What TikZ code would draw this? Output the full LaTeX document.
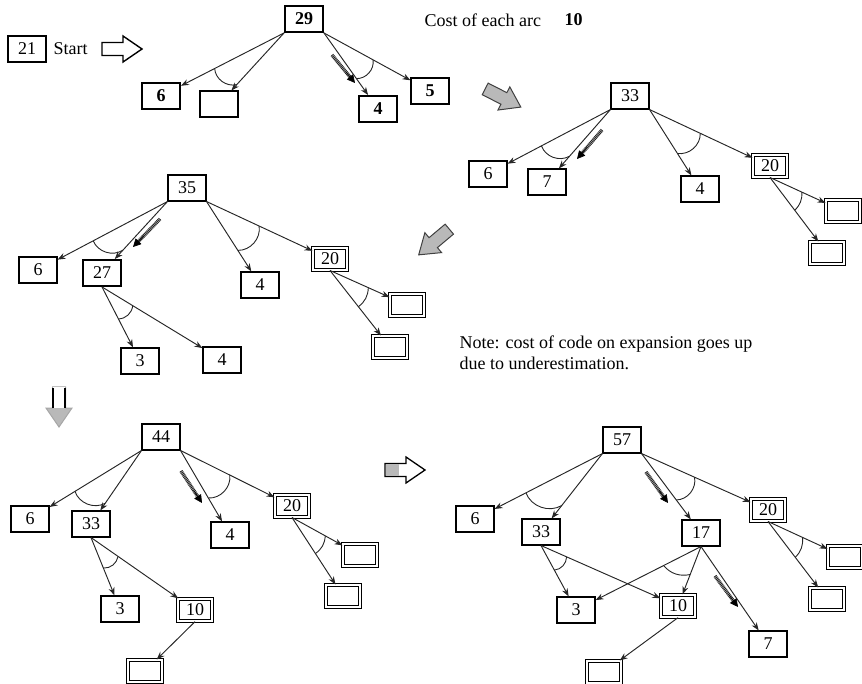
\documentclass[tikz,border=0pt]{standalone}
\usepackage{fontspec}
\setmainfont{Liberation Serif}
\usetikzlibrary{arrows.meta,calc}
\begin{document}
\begin{tikzpicture}[x=1pt,y=-1pt,
  every node/.style={font=\fontsize{18}{21}\selectfont},
  bf/.style={font=\fontsize{18}{21}\selectfont\bfseries},
  box/.style={draw, line width=1.1pt, minimum width=38pt, minimum height=26pt, inner sep=0pt},
  tbox/.style={box, line width=1.9pt},
  dbox/.style={draw, double, double distance=2pt, line width=1pt, minimum width=34pt, minimum height=22pt, inner sep=0pt},
  edge/.style={line width=0.95pt, black!85, -{Stealth[length=8pt,width=6pt]}},
  andarc/.style={line width=0.9pt, black!85},
  hatchbg/.style={line width=3.4pt, black!30, shorten >=6pt},
  hatchfg/.style={line width=3.4pt, black!90, dash pattern=on 0.7pt off 0.9pt, shorten >=6pt},
  hatchtip/.style={-{Triangle[length=8pt,width=8pt]}, line width=0.6pt},
  blockarrow/.pic={\path[pic actions] (-20,-6.5) -- (1,-6.5) -- (1,-13) -- (20,0) -- (1,13) -- (1,6.5) -- (-20,6.5) -- cycle;}
]
\useasboundingbox (0,0) rectangle (862,684);

% ---------- panel 1 ----------
\node[box, line width=1.3pt] (s21) at (27,49) {21};
\node[anchor=west] (start) at (50,49) {Start};
\pic[draw, fill=white, line width=1.4pt] (ar1) at (122,49) {blockarrow};
\node[anchor=west] (cost) at (421,20) {Cost of each arc};
\node[anchor=west, bf] (cost10) at (561,20) {10};

\node[tbox, bf] (a29) at (304,19) {29};
\node[tbox, bf] (a6) at (161,96) {6};
\node[box] (ae) at (219,104) {};
\node[tbox, bf] (a4) at (378,109) {4};
\node[box, bf] (a5) at (430,91) {5};
\draw[edge] (a29.south west) -- (a6);
\draw[edge] (a29.south west) -- (ae);
\draw[edge] (a29.south east) -- (a4);
\draw[edge] (a29.south east) -- (a5);
\draw[andarc] ($(a29.south west)!78pt!(a6)$) to[bend right=50] ($(a29.south west)!70pt!(ae)$);
\draw[andarc] ($(a29.south east)!56pt!(a4)$) to[bend right=50] ($(a29.south east)!56pt!(a5)$);
\coordinate (h1a) at (332,55); \coordinate (h1b) at (355,83);
\draw[hatchbg] (h1a) -- (h1b); \draw[hatchfg] (h1a) -- (h1b);
\draw[hatchtip] ($(h1a)!0.6!(h1b)$) -- (h1b);

\pic[draw=black!75, fill=gray!55, line width=1pt, rotate=-27] (ar2) at (503,98) {blockarrow};

% ---------- panel 2 ----------
\node[box] (b33) at (630,96) {33};
\node[box] (b6) at (488,174) {6};
\node[box] (b7) at (547,182) {7};
\node[box] (b4) at (700,189) {4};
\node[dbox] (b20) at (770,166) {20};
\node[dbox] (bx1) at (843,211) {};
\node[dbox] (bx2) at (827,253) {};
\draw[edge] (b33.south west) -- (b6);
\draw[edge] (b33.south west) -- (b7);
\draw[edge] (b33.south east) -- (b4);
\draw[edge] (b33.south east) -- (b20);
\draw[edge] (b20.south) -- (bx1);
\draw[edge] (b20.south) -- (bx2);
\draw[andarc] ($(b33.south west)!78pt!(b6)$) to[bend right=50] ($(b33.south west)!62pt!(b7)$);
\draw[andarc] ($(b33.south east)!52pt!(b4)$) to[bend right=50] ($(b33.south east)!56pt!(b20)$);
\draw[andarc] ($(b20.south)!41pt!(bx2)$) to[bend right=25] ($(b20.south)!35pt!(bx1)$);
\coordinate (h2a) at (602,130); \coordinate (h2b) at (577,159);
\draw[hatchbg] (h2a) -- (h2b); \draw[hatchfg] (h2a) -- (h2b);
\draw[hatchtip] ($(h2a)!0.6!(h2b)$) -- (h2b);

\pic[draw=black!75, fill=gray!55, line width=1pt, rotate=220] (ar3) at (434,242) {blockarrow};

% ---------- panel 3 ----------
\node[box] (c35) at (187,188) {35};
\node[box] (c6) at (38,270) {6};
\node[tbox] (c27) at (102,273) {27};
\node[box] (c4) at (260,285) {4};
\node[dbox] (c20) at (330,259) {20};
\node[dbox] (cx1) at (407,305) {};
\node[dbox] (cx2) at (390,347) {};
\node[box] (c3) at (140,361) {3};
\node[box] (c4b) at (222,360) {4};
\draw[edge] (c35.south west) -- (c6);
\draw[edge] (c35.south west) -- (c27);
\draw[edge] (c35.south east) -- (c4);
\draw[edge] (c35.south east) -- (c20);
\draw[edge] (c20.south) -- (cx1);
\draw[edge] (c20.south) -- (cx2);
\draw[edge] (c27.south) -- (c3);
\draw[edge] (c27.south) -- (c4b);
\draw[andarc] ($(c35.south west)!84pt!(c6)$) to[bend right=50] ($(c35.south west)!66pt!(c27)$);
\draw[andarc] ($(c35.south east)!58pt!(c4)$) to[bend right=50] ($(c35.south east)!58pt!(c20)$);
\draw[andarc] ($(c27.south)!36pt!(c3)$) to[bend right=40] ($(c27.south)!36pt!(c4b)$);
\draw[andarc] ($(c20.south)!46pt!(cx2)$) to[bend right=25] ($(c20.south)!42pt!(cx1)$);
\coordinate (h3a) at (160,219); \coordinate (h3b) at (133,247);
\draw[hatchbg] (h3a) -- (h3b); \draw[hatchfg] (h3a) -- (h3b);
\draw[hatchtip] ($(h3a)!0.6!(h3b)$) -- (h3b);

\node[anchor=west, align=left] (note) at (456,353) {Note: cost of code on expansion goes up\\due to underestimation.};

% down arrow
\pic[draw=gray!70, fill=gray!55, line width=1pt, rotate=-90] (ar4) at (59,407) {blockarrow};
\fill[white] (53,387.5) rectangle (65,407.5);
\draw[line width=1.6pt] (53,388) -- (53,407.5);
\draw[line width=1.6pt] (65,388) -- (65,407.5);

% ---------- panel 4 ----------
\node[box] (d44) at (161,437) {44};
\node[box] (d6) at (30,519) {6};
\node[box] (d33) at (91,524) {33};
\node[box] (d4) at (230,535) {4};
\node[dbox] (d20) at (292,506) {20};
\node[dbox] (dx1) at (360,555) {};
\node[dbox] (dx2) at (343,596) {};
\node[box] (d3) at (120,609) {3};
\node[dbox, line width=1.3pt] (d10) at (195,610) {10};
\node[dbox] (dx3) at (145,671) {};
\draw[edge] (d44.south west) -- (d6);
\draw[edge] (d44.south west) -- (d33);
\draw[edge] (d44.south east) -- (d4);
\draw[edge] (d44.south east) -- (d20);
\draw[edge] (d20.south) -- (dx1);
\draw[edge] (d20.south) -- (dx2);
\draw[edge] (d33.south) -- (d3);
\draw[edge] (d33.south) -- (d10);
\draw[edge] (d10.south) -- (dx3);
\draw[andarc] ($(d44.south west)!78pt!(d6)$) to[bend right=50] ($(d44.south west)!64pt!(d33)$);
\draw[andarc] ($(d44.south east)!55pt!(d4)$) to[bend right=50] ($(d44.south east)!55pt!(d20)$);
\draw[andarc] ($(d33.south)!33pt!(d3)$) to[bend right=40] ($(d33.south)!33pt!(d10)$);
\draw[andarc] ($(d20.south)!43pt!(dx2)$) to[bend right=25] ($(d20.south)!38pt!(dx1)$);
\coordinate (h4a) at (181,471); \coordinate (h4b) at (202,503);
\draw[hatchbg] (h4a) -- (h4b); \draw[hatchfg] (h4a) -- (h4b);
\draw[hatchtip] ($(h4a)!0.6!(h4b)$) -- (h4b);

% right arrow
\pic[draw, fill=white, line width=1.3pt] (ar5) at (405,470) {blockarrow};
\fill[gray!55] (385.7,464.2) rectangle (399,475.8);

% ---------- panel 5 ----------
\node[box] (e57) at (622,440) {57};
\node[box] (e6) at (475,519) {6};
\node[box] (e33) at (541,532) {33};
\node[box] (e17) at (701,533) {17};
\node[dbox] (e20) at (768,510) {20};
\node[dbox] (ex1) at (845,557) {};
\node[dbox] (ex2) at (827,599) {};
\node[box] (e3) at (576,610) {3};
\node[dbox, line width=1.3pt] (e10) at (678,606) {10};
\node[box] (e7) at (768,644) {7};
\node[dbox] (ex3) at (604,672) {};
\draw[edge] (e57.south west) -- (e6);
\draw[edge] (e57.south west) -- (e33);
\draw[edge] (e57.south east) -- (e17);
\draw[edge] (e57.south east) -- (e20);
\draw[edge] (e20.south) -- (ex1);
\draw[edge] (e20.south) -- (ex2);
\draw[edge] (e33.south) -- (e3);
\draw[edge] (e33.south) -- (e10);
\draw[edge] (e17.south) -- (e3);
\draw[edge] (e17.south) -- (e10);
\draw[edge] (e17.south) -- (e7);
\draw[edge] (e10.south) -- (ex3);
\draw[andarc] ($(e57.south west)!86pt!(e6)$) to[bend right=50] ($(e57.south west)!66pt!(e33)$);
\draw[andarc] ($(e57.south east)!58pt!(e17)$) to[bend right=50] ($(e57.south east)!58pt!(e20)$);
\draw[andarc] ($(e33.south)!28pt!(e3)$) to[bend right=40] ($(e33.south)!28pt!(e10)$);
\draw[andarc] ($(e17.south)!42pt!(e3)$) to[bend right=30] ($(e17.south)!30pt!(e10)$);
\draw[andarc] ($(e20.south)!45pt!(ex2)$) to[bend right=25] ($(e20.south)!38pt!(ex1)$);
\coordinate (h5a) at (646,472); \coordinate (h5b) at (668,503);
\draw[hatchbg] (h5a) -- (h5b); \draw[hatchfg] (h5a) -- (h5b);
\draw[hatchtip] ($(h5a)!0.6!(h5b)$) -- (h5b);
\coordinate (h6a) at (715,576); \coordinate (h6b) at (738,607);
\draw[hatchbg] (h6a) -- (h6b); \draw[hatchfg] (h6a) -- (h6b);
\draw[hatchtip] ($(h6a)!0.6!(h6b)$) -- (h6b);
\end{tikzpicture}
\end{document}
